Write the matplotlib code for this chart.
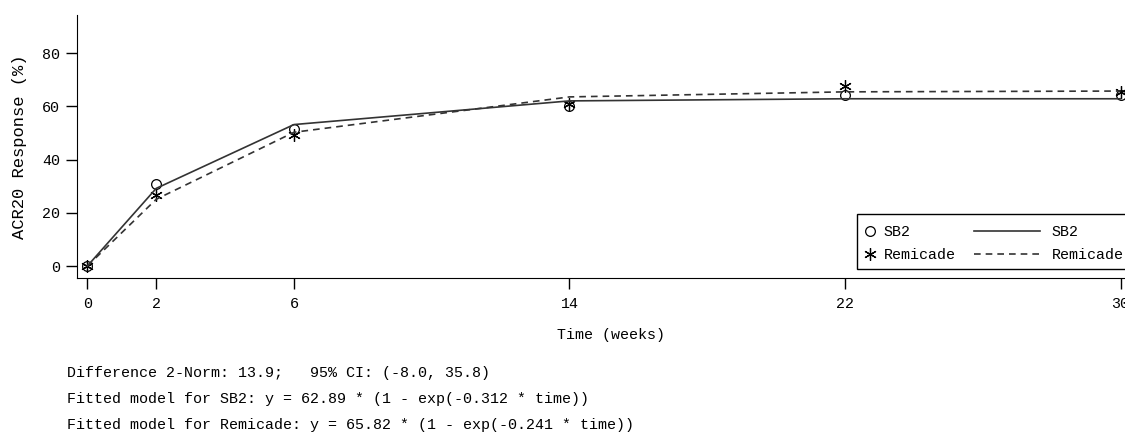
import numpy as np
import matplotlib
matplotlib.use("Agg")
import matplotlib.pyplot as plt
from matplotlib.patches import Rectangle

# observed ACR20 response (%) by week
weeks = [0, 2, 6, 14, 22, 30]
sb2_obs = [0, 31.0, 51.5, 60.3, 64.2, 64.2]
remi_obs = [0, 26.8, 49.3, 60.8, 67.8, 65.6]

# fitted model values at the same weeks
sb2_fit = [0, 29.2, 53.2, 62.1, 62.9, 62.9]
remi_fit = [0, 25.1, 50.3, 63.6, 65.5, 65.8]

yticks = [0, 20, 40, 60, 80]
names = ["SB2", "Remicade"]

notes = [
    "Difference 2-Norm: 13.9;   95% CI: (-8.0, 35.8)",
    "Fitted model for SB2: y = 62.89 * (1 - exp(-0.312 * time))",
    "Fitted model for Remicade: y = 65.82 * (1 - exp(-0.241 * time))",
]

FS = 10.8
plt.rcParams['font.family'] = ['Liberation Mono', 'DejaVu Sans Mono']
plt.rcParams['font.size'] = FS

W, H = 1125, 433
fig = plt.figure(figsize=(W / 100, H / 100), dpi=100)
ax = fig.add_axes([77 / W, 1 - 278 / H, 0.949, (278 - 15) / H])

star = (6, 2, 0)
m1, = ax.plot(weeks, sb2_obs, linestyle='none', marker='o', markersize=7,
              markerfacecolor='none', markeredgecolor='black', markeredgewidth=0.9)
m2, = ax.plot(weeks, remi_obs, linestyle='none', marker=star, markersize=9,
              color='black', markeredgewidth=0.9)
l1, = ax.plot(weeks, sb2_fit, color='#333333', linewidth=1.2)
l2, = ax.plot(weeks, remi_fit, color='#333333', linewidth=1.2, linestyle=(0, (4, 3)))

ax.set_xlim(-0.3, 30.7)
ax.set_ylim(-4.5, 94.4)
ax.set_xticks(weeks)
ax.set_yticks(yticks)
ax.spines['top'].set_visible(False)
ax.spines['right'].set_visible(False)
ax.tick_params(direction='out', length=8, width=1, color='black', labelsize=FS, pad=4)
ax.tick_params(axis='x', pad=6)
ax.set_xlabel("Time (weeks)", labelpad=12)
ax.set_ylabel("ACR20 Response (%)", fontsize=12.3, labelpad=11)

# legend: marker column and line column, one frame around both
fig.patches.append(Rectangle((857 / W, 1 - 269 / H), (1140 - 857) / W, 55 / H,
                             transform=fig.transFigure, facecolor='white',
                             edgecolor='black', linewidth=1.0, zorder=2))
legA = fig.legend([m1, m2], names, loc='upper left',
                  bbox_to_anchor=(852 / W, 1 - 214 / H), frameon=False,
                  handlelength=0.9, handletextpad=0.45, borderpad=0.25,
                  labelspacing=0.6, fontsize=FS)
legB = fig.legend([l1, l2], names, loc='upper left',
                  bbox_to_anchor=(963 / W, 1 - 214 / H), frameon=False,
                  handlelength=4.4, handletextpad=0.75, borderpad=0.25,
                  labelspacing=0.6, fontsize=FS)

ys = [373, 399, 425]
for t, y in zip(notes, ys):
    fig.text(67 / W, 1 - y / H, t, va='center', ha='left', fontsize=FS)

fig.savefig("out.png", dpi=100)
